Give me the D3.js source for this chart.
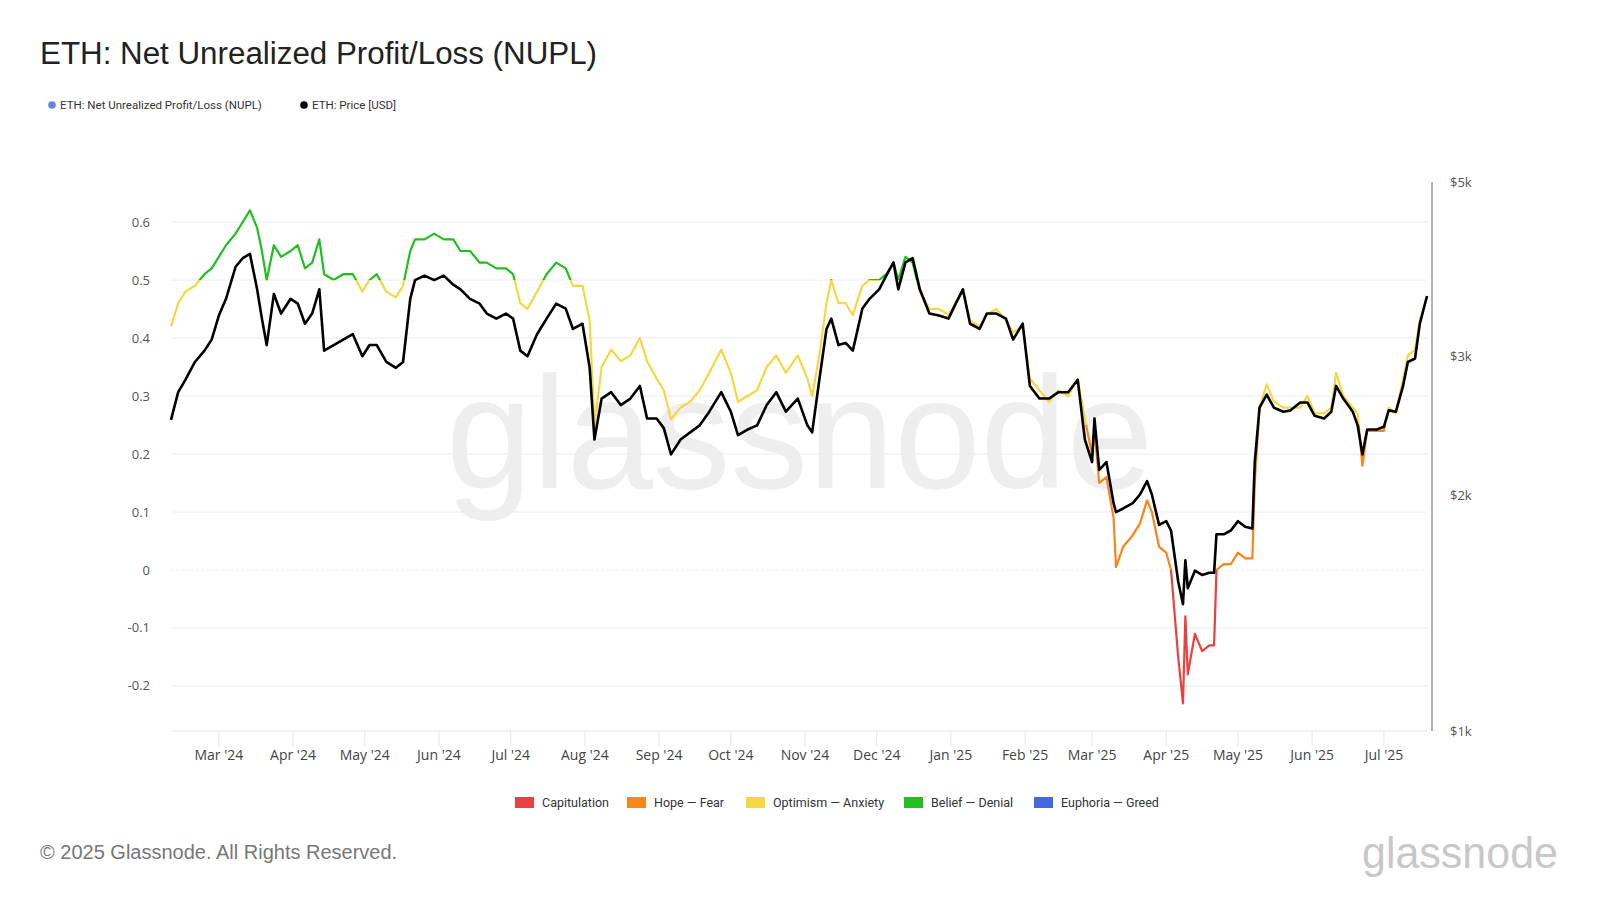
<!DOCTYPE html>
<html><head><meta charset="utf-8">
<script src="https://cdn.jsdelivr.net/npm/d3@7"></script>
<style>body{margin:0;background:#fff}svg{display:block}</style>
</head><body>
<svg id="c" width="1600" height="900"></svg>
<script>
const dates = ["2024-02-10","2024-02-13","2024-02-16","2024-02-20","2024-02-24","2024-02-27","2024-03-01","2024-03-04","2024-03-08","2024-03-11","2024-03-14","2024-03-17","2024-03-19","2024-03-21","2024-03-24","2024-03-27","2024-03-31","2024-04-03","2024-04-06","2024-04-09","2024-04-12","2024-04-14","2024-04-18","2024-04-22","2024-04-26","2024-04-30","2024-05-03","2024-05-06","2024-05-10","2024-05-14","2024-05-17","2024-05-20","2024-05-22","2024-05-26","2024-05-30","2024-06-03","2024-06-07","2024-06-10","2024-06-14","2024-06-18","2024-06-21","2024-06-25","2024-06-29","2024-07-02","2024-07-05","2024-07-08","2024-07-12","2024-07-16","2024-07-20","2024-07-24","2024-07-27","2024-07-31","2024-08-03","2024-08-05","2024-08-08","2024-08-12","2024-08-16","2024-08-20","2024-08-24","2024-08-27","2024-08-31","2024-09-03","2024-09-06","2024-09-10","2024-09-14","2024-09-18","2024-09-22","2024-09-27","2024-10-01","2024-10-04","2024-10-08","2024-10-12","2024-10-16","2024-10-20","2024-10-24","2024-10-29","2024-11-02","2024-11-04","2024-11-07","2024-11-10","2024-11-12","2024-11-15","2024-11-18","2024-11-21","2024-11-25","2024-11-28","2024-12-02","2024-12-05","2024-12-08","2024-12-10","2024-12-13","2024-12-16","2024-12-19","2024-12-23","2024-12-27","2024-12-31","2025-01-03","2025-01-06","2025-01-09","2025-01-13","2025-01-16","2025-01-20","2025-01-24","2025-01-27","2025-01-31","2025-02-03","2025-02-07","2025-02-11","2025-02-15","2025-02-19","2025-02-23","2025-02-26","2025-03-01","2025-03-02","2025-03-04","2025-03-07","2025-03-10","2025-03-11","2025-03-14","2025-03-18","2025-03-21","2025-03-24","2025-03-26","2025-03-29","2025-04-01","2025-04-03","2025-04-06","2025-04-08","2025-04-09","2025-04-10","2025-04-13","2025-04-16","2025-04-19","2025-04-21","2025-04-22","2025-04-25","2025-04-28","2025-05-01","2025-05-04","2025-05-07","2025-05-08","2025-05-10","2025-05-13","2025-05-16","2025-05-20","2025-05-23","2025-05-27","2025-05-30","2025-06-02","2025-06-06","2025-06-09","2025-06-11","2025-06-14","2025-06-18","2025-06-20","2025-06-22","2025-06-24","2025-06-28","2025-07-01","2025-07-03","2025-07-06","2025-07-09","2025-07-11","2025-07-14","2025-07-16","2025-07-19"];
const nupl = [0.42,0.46,0.48,0.49,0.51,0.52,0.54,0.56,0.58,0.60,0.62,0.59,0.55,0.50,0.56,0.54,0.55,0.56,0.52,0.53,0.57,0.51,0.50,0.51,0.51,0.48,0.50,0.51,0.48,0.47,0.49,0.55,0.57,0.57,0.58,0.57,0.57,0.55,0.55,0.53,0.53,0.52,0.52,0.51,0.46,0.45,0.48,0.51,0.53,0.52,0.49,0.49,0.43,0.25,0.35,0.38,0.36,0.37,0.40,0.36,0.33,0.31,0.26,0.28,0.29,0.31,0.34,0.38,0.34,0.29,0.30,0.31,0.35,0.37,0.34,0.37,0.33,0.30,0.37,0.46,0.50,0.46,0.46,0.44,0.49,0.50,0.50,0.51,0.53,0.50,0.54,0.53,0.48,0.45,0.45,0.44,0.46,0.48,0.43,0.42,0.44,0.45,0.43,0.41,0.42,0.33,0.31,0.29,0.31,0.30,0.33,0.26,0.20,0.24,0.15,0.16,0.09,0.005,0.04,0.06,0.08,0.12,0.10,0.04,0.03,0.0,-0.15,-0.23,-0.08,-0.18,-0.11,-0.14,-0.13,-0.13,0.0,0.01,0.01,0.03,0.02,0.02,0.15,0.28,0.32,0.29,0.28,0.28,0.28,0.30,0.27,0.27,0.28,0.34,0.30,0.28,0.27,0.18,0.24,0.24,0.24,0.28,0.27,0.33,0.37,0.38,0.43,0.47];
const price = [2490,2700,2800,2950,3050,3150,3380,3550,3900,4000,4050,3650,3350,3100,3600,3400,3550,3500,3300,3400,3650,3050,3100,3150,3200,3000,3100,3100,2950,2900,2950,3550,3750,3800,3750,3800,3700,3650,3550,3500,3400,3350,3400,3350,3050,3000,3200,3350,3500,3450,3250,3300,2900,2350,2650,2700,2600,2650,2750,2500,2500,2430,2250,2350,2400,2450,2550,2700,2550,2380,2420,2450,2600,2700,2550,2650,2450,2400,2800,3250,3350,3100,3120,3050,3450,3550,3650,3800,3950,3650,3950,4000,3650,3400,3380,3350,3500,3650,3300,3250,3400,3400,3350,3150,3300,2750,2650,2650,2700,2700,2800,2350,2200,2500,2150,2200,1950,1900,1920,1950,2000,2080,2000,1830,1850,1800,1550,1450,1650,1520,1600,1580,1590,1590,1780,1780,1800,1850,1820,1810,2200,2580,2680,2580,2550,2560,2620,2620,2520,2500,2550,2750,2650,2550,2450,2250,2420,2420,2440,2560,2550,2750,2950,2980,3300,3580];
const nuplTicks = [0.6,0.5,0.4,0.3,0.2,0.1,0,-0.1,-0.2];
const nuplTickLabels = ["0.6","0.5","0.4","0.3","0.2","0.1","0","-0.1","-0.2"];
const priceTicks = [1000,2000,3000,5000];
const priceTickLabels = ["$1k","$2k","$3k","$5k"];
const monthTicks = ["2024-03-01","2024-04-01","2024-05-01","2024-06-01","2024-07-01","2024-08-01","2024-09-01","2024-10-01","2024-11-01","2024-12-01","2025-01-01","2025-02-01","2025-03-01","2025-04-01","2025-05-01","2025-06-01","2025-07-01"];
const monthLabels = ["Mar '24","Apr '24","May '24","Jun '24","Jul '24","Aug '24","Sep '24","Oct '24","Nov '24","Dec '24","Jan '25","Feb '25","Mar '25","Apr '25","May '25","Jun '25","Jul '25"];
const zones = ["Capitulation","Hope — Fear","Optimism — Anxiety","Belief — Denial","Euphoria — Greed"];
const zoneBounds = [[-1,0],[0,0.25],[0.25,0.5],[0.5,0.75],[0.75,1]];
const zoneColors = ["#e8413f","#f7861b","#f5d742","#1fbf1f","#4169e1"];

const parse = d3.utcParse("%Y-%m-%d");
const svg = d3.select("#c");
const L=171, R=1427, T=182, B=731;
const x = d3.scaleUtc().domain([parse("2024-02-10"), parse("2025-07-19")]).range([L,R]);
const yN = d3.scaleLinear().domain([-0.2776,0.669]).range([B,T]);
const yP = d3.scaleLog().domain([1000,5000]).range([B,T]);
const font = "'Open Sans', sans-serif";
const sans = "'Liberation Sans', Arial, sans-serif";

svg.append("text").attr("x",446).attr("y",488)
  .attr("font-family",sans).attr("font-size",160).attr("fill","#eeeeee")
  .attr("textLength",707).attr("lengthAdjust","spacingAndGlyphs").text("glassnode");

nuplTicks.forEach((t,i)=>{
  svg.append("line").attr("x1",L).attr("x2",R).attr("y1",yN(t)).attr("y2",yN(t))
    .attr("stroke", "#ececec").attr("stroke-width",1).attr("stroke-dasharray", t===0?"3,2":null);
  svg.append("text").attr("x",150).attr("y",yN(t)+4.5).attr("text-anchor","end")
    .attr("font-family",font).attr("font-size",13).attr("fill","#555").text(nuplTickLabels[i]);
});
svg.append("line").attr("x1",L).attr("x2",R).attr("y1",B).attr("y2",B).attr("stroke","#e6e6e6");
monthTicks.forEach((m,i)=>{
  const xx = x(parse(m));
  svg.append("line").attr("x1",xx).attr("x2",xx).attr("y1",B).attr("y2",B+15).attr("stroke","#e6e6e6");
  svg.append("text").attr("x",xx).attr("y",B+29).attr("text-anchor","middle")
    .attr("font-family",font).attr("font-size",14).attr("fill","#444").text(monthLabels[i]);
});
svg.append("line").attr("x1",1432).attr("x2",1432).attr("y1",T).attr("y2",B).attr("stroke","#666");
priceTicks.forEach((t,i)=>{
  svg.append("text").attr("x",1450).attr("y",yP(t)+5).attr("font-family",font).attr("font-size",13)
    .attr("fill","#555").text(priceTickLabels[i]);
});

const data = dates.map((d,i)=>({d:parse(d), n:nupl[i], p:price[i]}));
const defs = svg.append("defs");
const nLine = d3.line().x(d=>x(d.d)).y(d=>yN(d.n));
zoneBounds.forEach((b,i)=>{
  const y1 = yN(Math.min(b[1],0.669)), y0 = yN(Math.max(b[0],-0.2776));
  defs.append("clipPath").attr("id","z"+i).append("rect")
    .attr("x",0).attr("width",1600).attr("y",y1-(i===4?200:0)).attr("height",y0-y1+(i===0?200:0)+(i===4?200:0));
  svg.append("path").datum(data).attr("d",nLine).attr("fill","none")
    .attr("stroke",zoneColors[i]).attr("stroke-width",2.2).attr("stroke-linejoin","round")
    .attr("clip-path","url(#z"+i+")");
});
svg.append("path").datum(data).attr("d",d3.line().x(d=>x(d.d)).y(d=>yP(d.p)))
  .attr("fill","none").attr("stroke","#000").attr("stroke-width",2.6).attr("stroke-linejoin","round");

svg.append("text").attr("x",40).attr("y",64).attr("font-family",sans).attr("font-size",31)
  .attr("fill","#222").attr("textLength",557).attr("lengthAdjust","spacingAndGlyphs").text("ETH: Net Unrealized Profit/Loss (NUPL)");
const lg = [{t:"ETH: Net Unrealized Profit/Loss (NUPL)",c:"#6a7fe8",x:52},{t:"ETH: Price [USD]",c:"#000",x:304}];
lg.forEach(l=>{
  svg.append("circle").attr("cx",l.x).attr("cy",105).attr("r",3.8).attr("fill",l.c);
  svg.append("text").attr("x",l.x+8).attr("y",109).attr("font-family","Roboto, sans-serif").attr("font-size",11.5)
    .attr("fill","#333").text(l.t);
});
const zx = [515,627,746,904,1034];
zones.forEach((z,i)=>{
  svg.append("rect").attr("x",zx[i]).attr("y",797).attr("width",19).attr("height",11).attr("fill",zoneColors[i]);
  svg.append("text").attr("x",zx[i]+27).attr("y",807).attr("font-family","Roboto, sans-serif").attr("font-size",12.5)
    .attr("fill","#333").text(z);
});
svg.append("text").attr("x",40).attr("y",859).attr("font-family",sans).attr("font-size",20)
  .attr("fill","#777").text("© 2025 Glassnode. All Rights Reserved.");
svg.append("text").attr("x",1362).attr("y",868).attr("font-family",sans)
  .attr("font-size",44).attr("fill","#c8c8c8").attr("textLength",196).attr("lengthAdjust","spacingAndGlyphs").text("glassnode");
</script>
</body></html>
